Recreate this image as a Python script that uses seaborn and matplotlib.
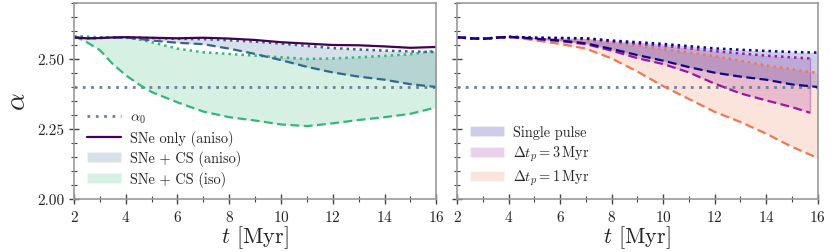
import numpy as np
import pandas as pd
import matplotlib
matplotlib.use("Agg")
import matplotlib.pyplot as plt
from matplotlib.patches import Patch
from matplotlib.lines import Line2D
from matplotlib.ticker import MultipleLocator, FormatStrFormatter
import seaborn as sns

# time grid (Myr)
t = [2, 2.5, 3, 3.5, 4, 4.5, 5, 6, 7, 8, 9, 10, 11, 12, 13, 14, 15, 16]
t3 = [2, 2.5, 3, 3.5, 4, 4.5, 5, 6, 7, 8, 9, 10, 11, 12, 13, 14, 15, 15.7]
alpha0 = 2.40

# left panel
sne_only = [2.577, 2.574, 2.575, 2.577, 2.578, 2.577, 2.576, 2.574, 2.576, 2.573, 2.568, 2.560, 2.555, 2.550, 2.549, 2.545, 2.540, 2.543]
cs_aniso_hi = [2.577, 2.574, 2.575, 2.577, 2.578, 2.576, 2.575, 2.572, 2.571, 2.567, 2.562, 2.555, 2.547, 2.539, 2.534, 2.530, 2.527, 2.525]
cs_aniso_lo = [2.577, 2.574, 2.575, 2.576, 2.577, 2.572, 2.566, 2.558, 2.553, 2.537, 2.518, 2.496, 2.472, 2.452, 2.437, 2.426, 2.410, 2.400]
cs_iso_hi = [2.582, 2.580, 2.578, 2.577, 2.576, 2.570, 2.560, 2.537, 2.524, 2.518, 2.512, 2.506, 2.500, 2.502, 2.506, 2.511, 2.517, 2.530]
cs_iso_lo = [2.582, 2.560, 2.532, 2.482, 2.442, 2.410, 2.382, 2.345, 2.312, 2.292, 2.280, 2.266, 2.260, 2.270, 2.282, 2.292, 2.304, 2.327]

# right panel
sp_hi = [2.578, 2.574, 2.572, 2.576, 2.579, 2.578, 2.576, 2.575, 2.574, 2.566, 2.560, 2.554, 2.546, 2.538, 2.533, 2.529, 2.525, 2.523]
sp_lo = [2.578, 2.574, 2.572, 2.576, 2.579, 2.577, 2.573, 2.566, 2.556, 2.536, 2.514, 2.494, 2.471, 2.451, 2.437, 2.426, 2.409, 2.400]
dt3_hi = [2.578, 2.574, 2.572, 2.576, 2.579, 2.578, 2.576, 2.575, 2.573, 2.563, 2.555, 2.547, 2.538, 2.528, 2.520, 2.512, 2.506, 2.502]
dt3_lo = [2.578, 2.574, 2.572, 2.576, 2.579, 2.576, 2.572, 2.564, 2.553, 2.530, 2.503, 2.482, 2.452, 2.412, 2.377, 2.352, 2.328, 2.308]
dt1_hi = [2.578, 2.574, 2.572, 2.576, 2.579, 2.577, 2.574, 2.570, 2.566, 2.558, 2.548, 2.536, 2.523, 2.510, 2.494, 2.477, 2.463, 2.450]
dt1_lo = [2.578, 2.574, 2.572, 2.576, 2.579, 2.574, 2.567, 2.554, 2.537, 2.502, 2.455, 2.403, 2.357, 2.311, 2.275, 2.233, 2.186, 2.146]

sns.set_theme(style="ticks")
plt.rcParams['font.family'] = ['cmr10', 'DejaVu Serif']
plt.rcParams['mathtext.fontset'] = 'cm'
plt.rcParams['axes.unicode_minus'] = False
plt.rcParams['axes.formatter.use_mathtext'] = True

c_purple = "#440154"
c_blue = "#31688e"
c_green = "#35b779"
c_navy = "#0d0887"
c_mag = "#9c179e"
c_orange = "#ed7953"
c_a0 = "#6f7f99"
dash = (0, (4, 2))
dot = (0, (1, 1.6))

fig = plt.figure(figsize=(8.31, 2.53), dpi=100)
ax1 = fig.add_axes([0.089, 0.21, 0.436, 0.774])
ax2 = fig.add_axes([0.55, 0.21, 0.434, 0.774], sharey=ax1)

# left
ax1.axhline(alpha0, color=c_a0, lw=2, ls=(0, (1, 2)))
ax1.fill_between(t, cs_iso_lo, cs_iso_hi, color=c_green, alpha=0.2, lw=0)
ax1.fill_between(t, cs_aniso_lo, cs_aniso_hi, color=c_blue, alpha=0.2, lw=0)
sns.lineplot(x=t, y=cs_iso_lo, ax=ax1, color=c_green, lw=1.6, ls=dash)
sns.lineplot(x=t, y=cs_iso_hi, ax=ax1, color=c_green, lw=1.8, ls=dot)
sns.lineplot(x=t, y=cs_aniso_lo, ax=ax1, color=c_blue, lw=1.6, ls=dash)
sns.lineplot(x=t, y=cs_aniso_hi, ax=ax1, color=c_blue, lw=1.8, ls=dot)
sns.lineplot(x=t, y=sne_only, ax=ax1, color=c_purple, lw=1.6)

h1 = [Line2D([], [], color=c_a0, lw=2, ls=(0, (1, 2))),
      Line2D([], [], color=c_purple, lw=1.6),
      Patch(facecolor=c_blue, alpha=0.2),
      Patch(facecolor=c_green, alpha=0.2)]
l1 = [r"$\alpha_0$", "SNe only (aniso)", "SNe + CS (aniso)", "SNe + CS (iso)"]
ax1.legend(h1, l1, loc="lower left", frameon=False, fontsize=10.3,
           handlelength=2.4, handletextpad=0.6, labelspacing=0.32,
           bbox_to_anchor=(0.0, -0.005))

# right
ax2.axhline(alpha0, color=c_a0, lw=2, ls=(0, (1, 2)))
ax2.fill_between(t, dt1_lo, dt1_hi, color=c_orange, alpha=0.2, lw=0)
ax2.fill_between(t3, dt3_lo, dt3_hi, color=c_mag, alpha=0.2, lw=0)
ax2.plot([t3[-1], t3[-1]], [dt3_lo[-1], dt3_hi[-1]], color=c_mag, alpha=0.35, lw=1)
ax2.fill_between(t, sp_lo, sp_hi, color=c_navy, alpha=0.2, lw=0)
sns.lineplot(x=t, y=dt1_lo, ax=ax2, color=c_orange, lw=1.6, ls=dash)
sns.lineplot(x=t, y=dt1_hi, ax=ax2, color=c_orange, lw=1.8, ls=dot)
sns.lineplot(x=t3, y=dt3_lo, ax=ax2, color=c_mag, lw=1.6, ls=dash)
sns.lineplot(x=t3, y=dt3_hi, ax=ax2, color=c_mag, lw=1.8, ls=dot)
sns.lineplot(x=t, y=sp_lo, ax=ax2, color=c_navy, lw=1.6, ls=dash)
sns.lineplot(x=t, y=sp_hi, ax=ax2, color=c_navy, lw=1.8, ls=dot)

h2 = [Patch(facecolor=c_navy, alpha=0.2),
      Patch(facecolor=c_mag, alpha=0.2),
      Patch(facecolor=c_orange, alpha=0.2)]
l2 = ["Single pulse", r"$\Delta t_p = 3\,\mathrm{Myr}$", r"$\Delta t_p = 1\,\mathrm{Myr}$"]
ax2.legend(h2, l2, loc="lower left", frameon=False, fontsize=10.3,
           handlelength=2.4, handletextpad=0.6, labelspacing=0.32,
           bbox_to_anchor=(0.0, -0.005))

for ax in (ax1, ax2):
    ax.set_xlim(2, 16)
    ax.set_ylim(2.0, 2.7)
    ax.xaxis.set_major_locator(MultipleLocator(2))
    ax.xaxis.set_minor_locator(MultipleLocator(1))
    ax.yaxis.set_major_locator(MultipleLocator(0.25))
    ax.yaxis.set_minor_locator(MultipleLocator(0.05))
    ax.yaxis.set_major_formatter(FormatStrFormatter('%.2f'))
    ax.tick_params(which='major', direction='inout', length=7, width=1, color='#444444', labelsize=11)
    ax.tick_params(which='minor', direction='inout', length=4, width=0.8, color='#444444')
    for s in ax.spines.values():
        s.set_color('#999999')
        s.set_linewidth(1.2)
    ax.set_xlabel(r"$t$ [Myr]", fontsize=16, labelpad=0)
    ax.set_ylabel("")

ax1.set_ylabel(r"$\alpha$", fontsize=20)
plt.setp(ax2.get_yticklabels(), visible=False)

plt.savefig("out.png", dpi=100)
